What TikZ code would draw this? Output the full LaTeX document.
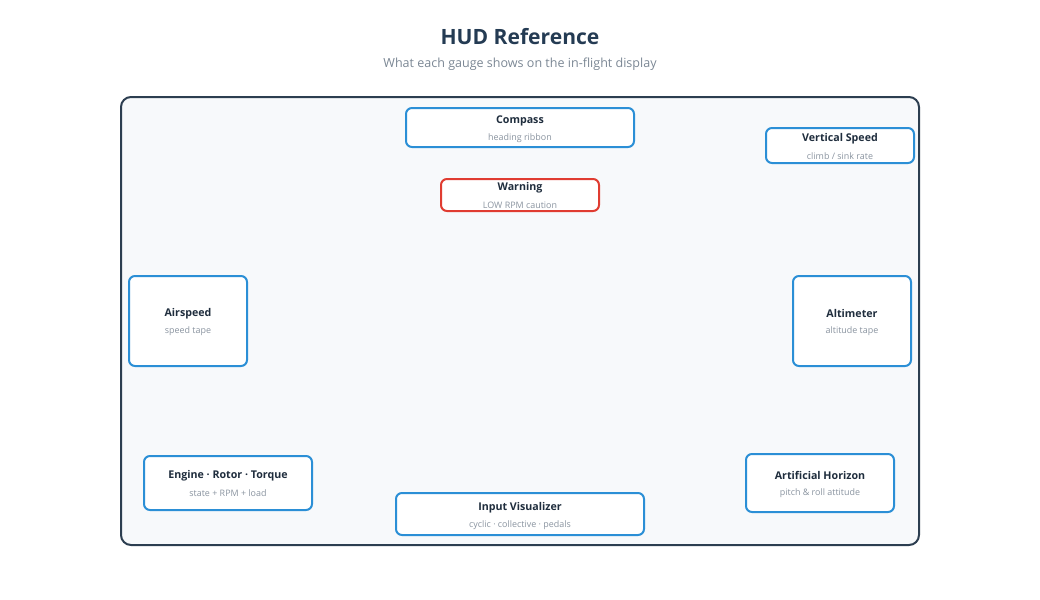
\documentclass[tikz,border=0pt]{standalone}
\usepackage{fontspec}
\setmainfont{Open Sans}
\definecolor{navy}{HTML}{243B53}
\definecolor{subgray}{HTML}{7B8794}
\definecolor{framec}{HTML}{2C3E50}
\definecolor{panel}{HTML}{F7F9FB}
\definecolor{boxblue}{HTML}{2B8FD6}
\definecolor{warnred}{HTML}{E03C31}
\definecolor{ttl}{HTML}{1F2D3D}
\definecolor{sub}{HTML}{8A94A0}
\begin{document}
\begin{tikzpicture}[x=0.75pt,y=-0.75pt,
  gauge/.style={draw=boxblue,line width=1.5pt,fill=white,rounded corners=4.5pt,inner sep=0pt},
  warnbox/.style={gauge,draw=warnred},
  gtitle/.style={font=\bfseries\fontsize{8}{10}\selectfont,text=ttl,inner sep=0pt,anchor=center},
  gsub/.style={font=\fontsize{6.7}{8}\selectfont,text=sub,inner sep=0pt,anchor=center}]
\useasboundingbox (0,0) rectangle (1040,600);
\node[font=\bfseries\fontsize{15.8}{19}\selectfont,text=navy] (title) at (520,37) {HUD Reference};
\node[font=\fontsize{9.4}{11}\selectfont,text=subgray] (subtitle) at (520,64) {What each gauge shows on the in-flight display};
\draw[draw=framec,line width=1.5pt,fill=panel,rounded corners=7.5pt] (121,97) rectangle (919,545);
\newcommand{\gauge}[9]{%
  \draw[#1] (#3,#4) rectangle (#5,#6) node[pos=0.5,inner sep=0pt] (#2) {};
  \node[gtitle] (#2-t) at (#2 |- 0,#7+1.5) {#8};
  \node[gsub] (#2-s) at (#2 |- 0,#7+19.5) {#9};}
\gauge{gauge}{compass}{406}{108}{634}{147}{119}{Compass}{heading ribbon}
\gauge{gauge}{vspeed}{766}{128}{914}{163}{137}{Vertical Speed}{climb / sink rate}
\gauge{warnbox}{warning}{441}{179}{599}{211}{186}{Warning}{LOW RPM caution}
\gauge{gauge}{airspeed}{129}{276}{247}{366}{312}{Airspeed}{speed tape}
\gauge{gauge}{altimeter}{793}{276}{911}{366}{312}{Altimeter}{altitude tape}
\gauge{gauge}{engine}{144}{456}{312}{510}{474}{Engine · Rotor · Torque}{state + RPM + load}
\gauge{gauge}{input}{396}{493}{644}{535}{506}{Input Visualizer}{cyclic · collective · pedals}
\gauge{gauge}{horizon}{746}{454}{894}{512}{474}{Artificial Horizon}{pitch \& roll attitude}
\end{tikzpicture}
\end{document}
